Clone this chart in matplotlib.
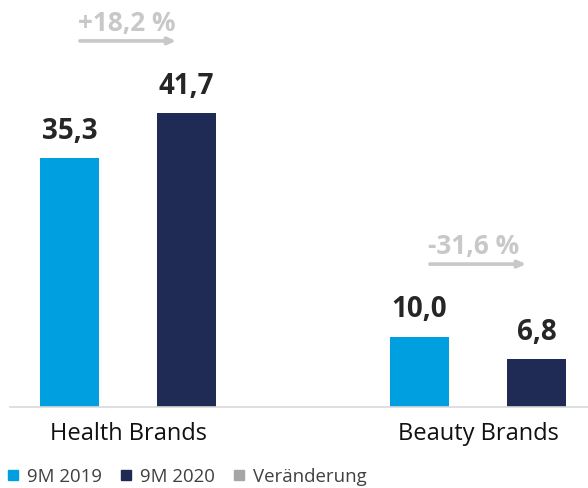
import matplotlib
matplotlib.use("Agg")
import matplotlib.pyplot as plt
from matplotlib.lines import Line2D
import numpy as np

plt.rcParams['font.family'] = ['Open Sans', 'DejaVu Sans']

categories = ["Health Brands", "Beauty Brands"]
series_names = ["9M 2019", "9M 2020", "Veränderung"]
values_2019 = [35.3, 10.0]
values_2020 = [41.7, 6.8]
change_pct = [18.2, -31.6]

c2019 = "#009FDF"
c2020 = "#1F2B55"
cchg = "#A6A6A6"
carrow = "#C8C8C8"

def fmt(v, plus=False):
    s = f"{v:.1f}".replace(".", ",")
    if plus and v > 0:
        s = "+" + s
    return s

fig = plt.figure(figsize=(5.88, 4.88), dpi=100)
ax = fig.add_axes([10/588, 81/488, 578/588, 407/488])

x = np.arange(len(categories))
w = 0.1686
off = 0.167
b1 = ax.bar(x - off, values_2019, w, color=c2019)
b2 = ax.bar(x + off, values_2020, w, color=c2020)

for rects, vals in ((b1, values_2019), (b2, values_2020)):
    for r, v in zip(rects, vals):
        ax.annotate(fmt(v), (r.get_x() + r.get_width()/2, v), xytext=(0, 9),
                    textcoords="offset points", ha="center", va="bottom",
                    fontsize=20, fontweight="bold", color="#262626")

aw = 0.275
for xi, a, b, ch in zip(x, values_2019, values_2020, change_pct):
    top = max(a, b) + 10.3
    ax.annotate("", xy=(xi + aw/2, top), xytext=(xi - aw/2, top),
                arrowprops=dict(arrowstyle="-|>,head_length=0.45,head_width=0.2",
                                color=carrow, lw=2.6, shrinkA=0, shrinkB=0))
    ax.annotate(fmt(ch, plus=True) + " %", (xi - aw/2, top), xytext=(-1.5, 3),
                textcoords="offset points", ha="left", va="bottom",
                fontsize=18.8, fontweight="bold", color=carrow)

ax.set_xlim((10 - 128)/350, (588 - 128)/350)
ax.set_ylim(0, 407/7.04)
ax.set_xticks(x)
ax.set_xticklabels(categories, fontsize=17, color="#111111")
ax.tick_params(axis="x", length=0, pad=11)
ax.set_yticks([])
for s in ("top", "right", "left"):
    ax.spines[s].set_visible(False)
ax.spines["bottom"].set_color("#D9D9D9")
ax.spines["bottom"].set_linewidth(1.2)

handles = [Line2D([], [], marker="s", linestyle="none", markersize=6.5, color=c)
           for c in (c2019, c2020, cchg)]
fig.legend(handles, series_names, loc="lower left", bbox_to_anchor=(-0.016, -0.03),
           ncol=3, frameon=False, fontsize=13.4, handlelength=0.6,
           handletextpad=0.45, columnspacing=1.0, labelcolor="#404040")

fig.savefig("out.png", dpi=100)
